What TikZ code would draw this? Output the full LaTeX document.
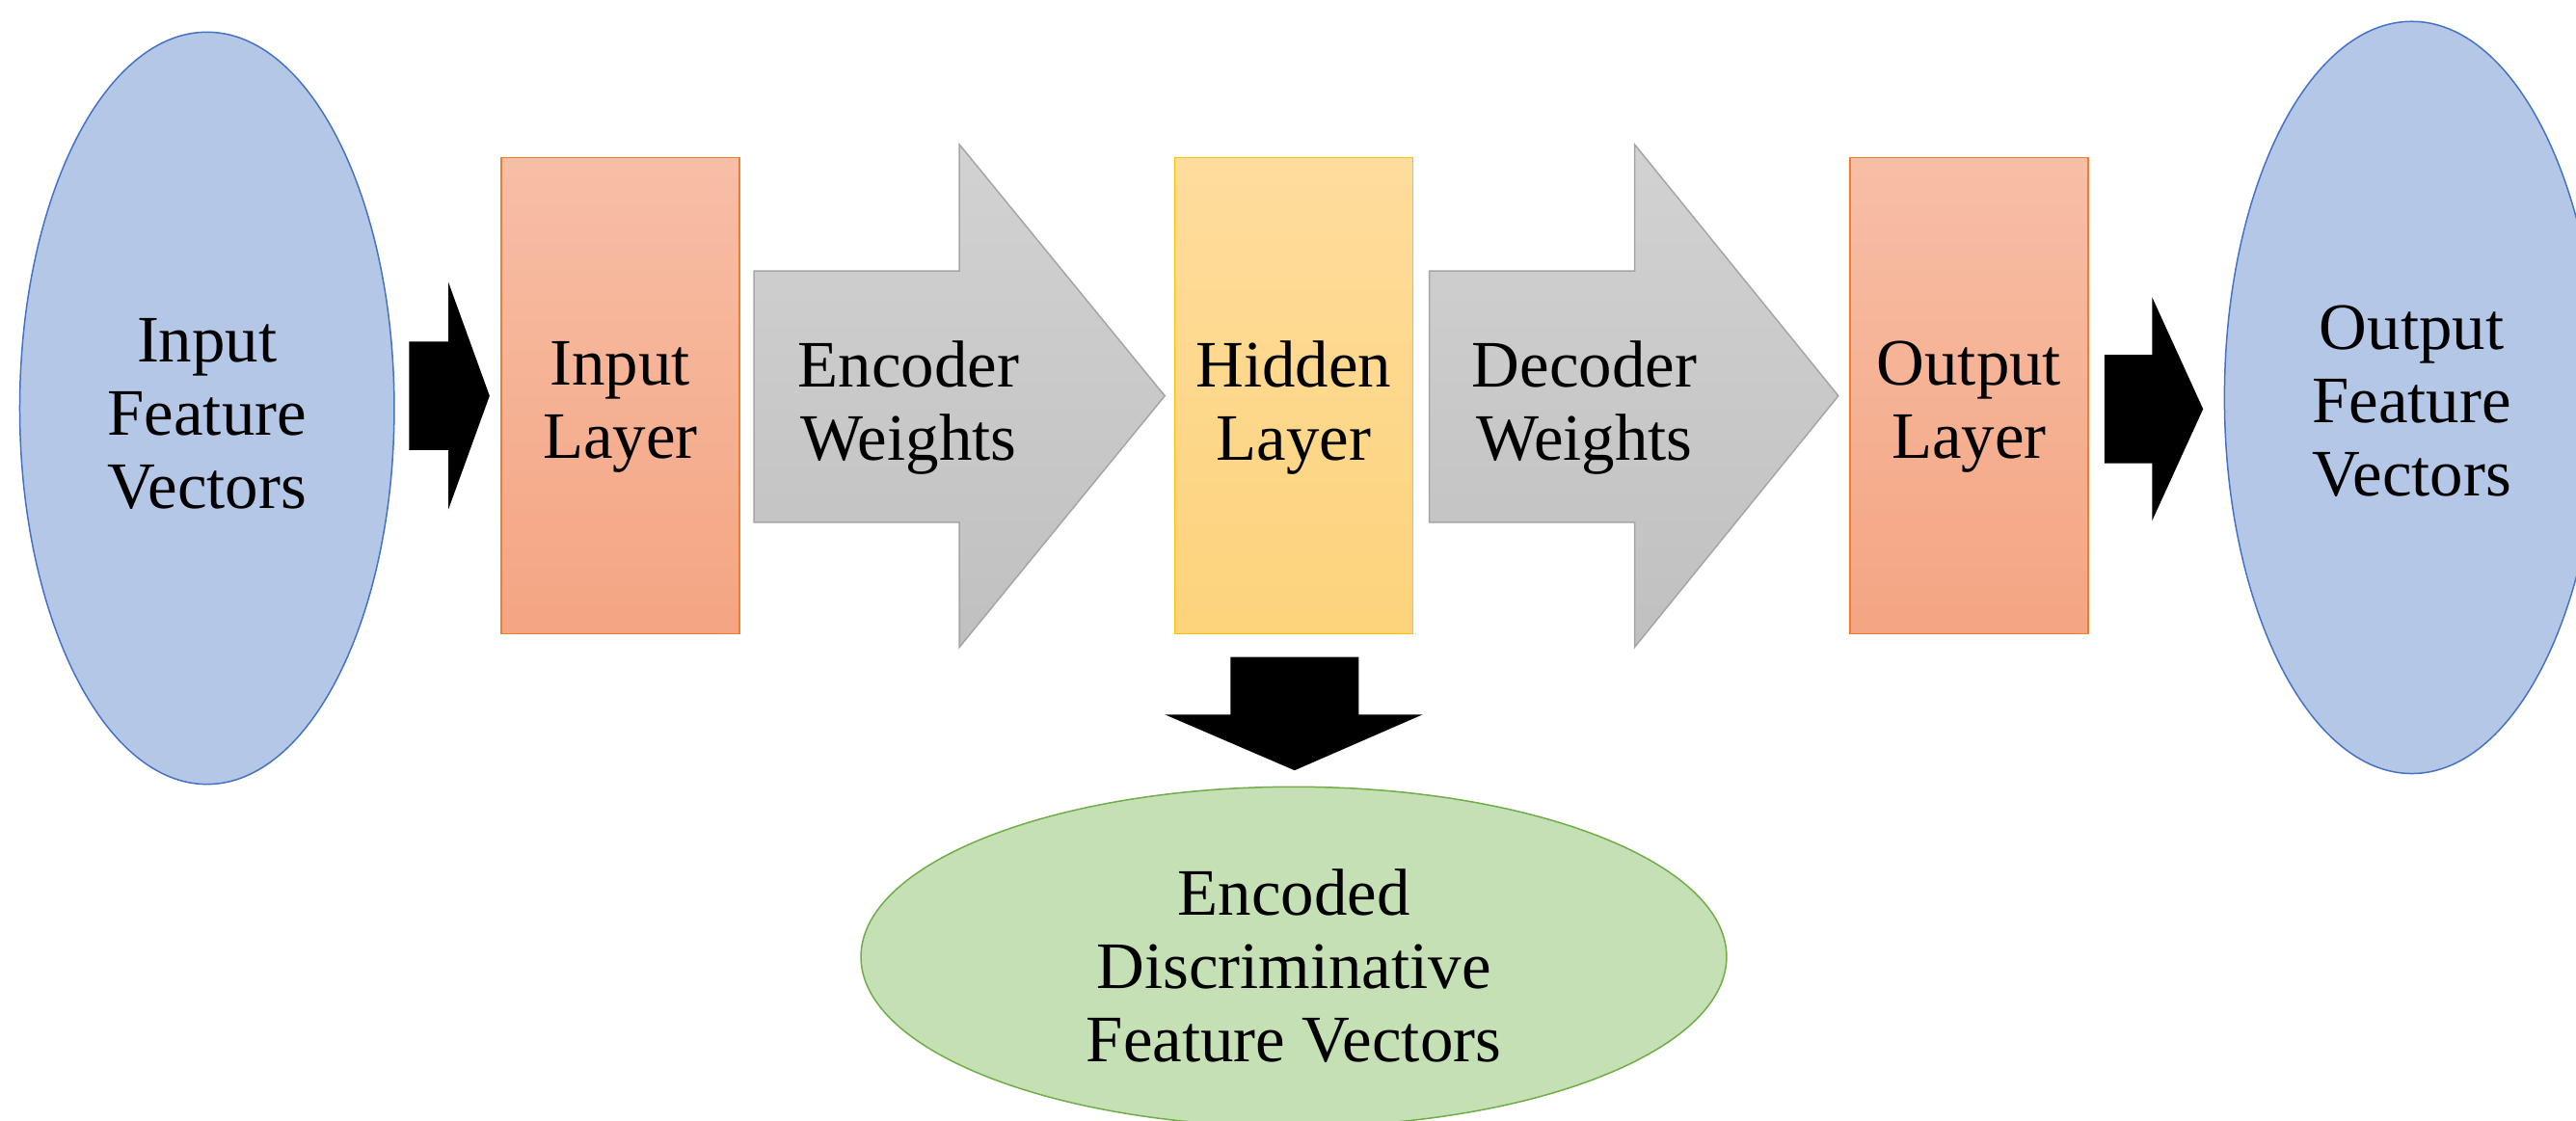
\documentclass[tikz,border=0pt]{standalone}
\usepackage{fontspec}
\setmainfont{Liberation Serif}
\usetikzlibrary{shapes.geometric,positioning}

\definecolor{vecfill}{HTML}{B4C7E7}
\definecolor{vecline}{HTML}{4472C4}
\definecolor{codefill}{HTML}{C5E0B4}
\definecolor{codeline}{HTML}{70AD47}
\definecolor{orangetop}{HTML}{F7BEA6}
\definecolor{orangebot}{HTML}{F4A582}
\definecolor{orangeline}{HTML}{ED7D31}
\definecolor{yellowtop}{HTML}{FEDC9C}
\definecolor{yellowbot}{HTML}{FDD37B}
\definecolor{yellowline}{HTML}{FFC000}
\definecolor{graytop}{HTML}{D2D2D2}
\definecolor{graybot}{HTML}{C0C0C0}
\definecolor{grayline}{HTML}{A5A5A5}

\tikzset{
  lbl/.style={align=center, font=\fontsize{23}{25.4}\selectfont},
  vecnode/.style={ellipse, draw=vecline, fill=vecfill, line width=0.5pt,
    inner sep=0pt, minimum width=4.56cm, minimum height=9.16cm},
  layer/.style={rectangle, line width=0.5pt, inner sep=0pt,
    minimum width=2.9cm, minimum height=5.8cm},
  weights/.style={top color=graytop, bottom color=graybot, draw=grayline, line width=0.5pt},
  flow/.style={fill=black},
}

\begin{document}
\begin{tikzpicture}[x=0.02cm,y=-0.02cm]
  \useasboundingbox (0,0) rectangle (1568,682);

  % feature vectors
  \node[vecnode] (inVec) at (126,248.5) {};
  \node[vecnode] (outVec) at (1468,242) {};
  \node[lbl] at ([yshift=-0.07cm]inVec.center) {Input\\Feature\\Vectors};
  \node[lbl] at ([yshift=-0.05cm]outVec.center) {Output\\Feature\\Vectors};

  % layers
  \node[layer, top color=orangetop, bottom color=orangebot, draw=orangeline]
    (inLayer) at (377.5,241) {};
  \node[layer, top color=yellowtop, bottom color=yellowbot, draw=yellowline]
    (hidLayer) at (787.5,241) {};
  \node[layer, top color=orangetop, bottom color=orangebot, draw=orangeline]
    (outLayer) at (1198.5,241) {};
  \node[lbl] at ([yshift=-0.14cm]inLayer.center) {Input\\Layer};
  \node[lbl] at ([yshift=-0.14cm]hidLayer.center) {Hidden\\Layer};
  \node[lbl] at ([yshift=-0.14cm]outLayer.center) {Output\\Layer};

  % weight arrows
  \path[weights] (459,165) -- (584,165) -- (584,88) -- (709,241)
    -- (584,394) -- (584,318) -- (459,318) -- cycle;
  \path[weights] (870,165) -- (995,165) -- (995,88) -- (1119,241)
    -- (995,394) -- (995,318) -- (870,318) -- cycle;
  \node[lbl] (encW) at (553,248) {Encoder\\Weights};
  \node[lbl] (decW) at (964.5,248) {Decoder\\Weights};

  % black flow arrows
  \fill[flow] (249,208) -- (273,208) -- (273,172) -- (298,241)
    -- (273,310) -- (273,274) -- (249,274) -- cycle;
  \fill[flow] (1281,216) -- (1310,216) -- (1310,181) -- (1341,249)
    -- (1310,317) -- (1310,282) -- (1281,282) -- cycle;
  \fill[flow] (749,400) -- (827,400) -- (827,435) -- (866,435)
    -- (788,469) -- (709,435) -- (749,435) -- cycle;

  % encoded output
  \node[ellipse, draw=codeline, fill=codefill, line width=0.5pt, inner sep=0pt,
    minimum width=10.54cm, minimum height=4.14cm] (codeVec) at (787.5,582.5) {};
  \node[lbl] at ([yshift=-0.11cm]codeVec.center) {Encoded\\Discriminative\\Feature Vectors};
\end{tikzpicture}
\end{document}
